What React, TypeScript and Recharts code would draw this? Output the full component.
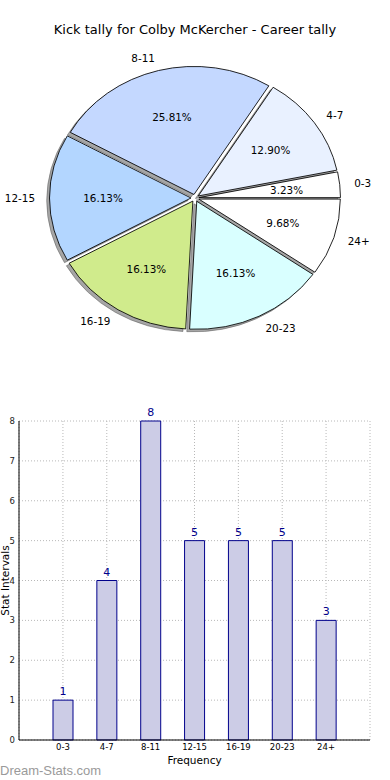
import React from 'react';
import { PieChart, Pie, Cell, Sector, BarChart, Bar, XAxis, YAxis, CartesianGrid, LabelList } from 'recharts';

const categories = ['0-3', '4-7', '8-11', '12-15', '16-19', '20-23', '24+'];
const counts = [1, 4, 8, 5, 5, 5, 3];
const sliceColors = ['#ffffff', '#e9f1ff', '#c4d8ff', '#b3d6ff', '#d0eb8c', '#d9ffff', '#ffffff'];
const yTicks = [0, 1, 2, 3, 4, 5, 6, 7, 8];

const pieData = categories.map((name, i) => ({ name, value: counts[i] }));
const barData = categories.map((name, i) => ({ name, value: counts[i] }));

const RAD = Math.PI / 180;
const EXPLODE = 4;
const YS = 0.905;
const LABEL_R = 156;
const PCT_R = 88;
const FONT = 'DejaVu Sans, sans-serif';

const squash = (cx: number, cy: number) =>
  `translate(${cx},${cy}) scale(1,${YS}) translate(${-cx},${-cy})`;

const renderSlice = (props: any) => {
  const { cx, cy, innerRadius, outerRadius, startAngle, endAngle, midAngle, fill } = props;
  const dx = EXPLODE * Math.cos(midAngle * RAD);
  const dy = -EXPLODE * Math.sin(midAngle * RAD);
  return (
    <g transform={squash(cx, cy)}>
      <Sector
        cx={cx + dx}
        cy={cy + dy}
        innerRadius={innerRadius}
        outerRadius={outerRadius}
        startAngle={startAngle}
        endAngle={endAngle}
        fill={fill}
        stroke="#000"
        strokeWidth={0.9}
      />
    </g>
  );
};

const renderShadow = (props: any) => {
  const { cx, cy, innerRadius, outerRadius, startAngle, endAngle, midAngle } = props;
  const dx = EXPLODE * Math.cos(midAngle * RAD) - 2.8;
  const dy = -EXPLODE * Math.sin(midAngle * RAD) + 2.8;
  return (
    <g transform={squash(cx, cy)}>
      <Sector
        cx={cx + dx}
        cy={cy + dy}
        innerRadius={innerRadius}
        outerRadius={outerRadius}
        startAngle={startAngle}
        endAngle={endAngle}
        fill="#4d4d4d"
        fillOpacity={0.5}
        stroke="#4d4d4d"
        strokeOpacity={0.5}
      />
    </g>
  );
};

const renderLabel = (props: any) => {
  const { cx, cy, midAngle, percent, name } = props;
  const c = Math.cos(midAngle * RAD);
  const s = Math.sin(midAngle * RAD);
  const lx = cx + (LABEL_R + EXPLODE) * c;
  const ly = cy - (LABEL_R + EXPLODE) * s * YS;
  const px = cx + (PCT_R + EXPLODE) * c;
  const py = cy - (PCT_R + EXPLODE) * s * YS;
  return (
    <g>
      <text x={lx} y={ly} textAnchor={c < 0 ? 'end' : 'start'} dominantBaseline="central" fontSize={10.4} fontFamily={FONT} fill="#000">
        {name}
      </text>
      <text x={px} y={py} textAnchor="middle" dominantBaseline="central" fontSize={10.4} fontFamily={FONT} fill="#000">
        {(percent * 100).toFixed(2) + '%'}
      </text>
    </g>
  );
};

const YLabel = (props: any) => {
  const vb = props.viewBox || { x: 0, y: 31, width: 19, height: 319 };
  const x = 9;
  const y = vb.y + vb.height / 2;
  return (
    <text x={x} y={y} transform={`rotate(-90, ${x}, ${y})`} textAnchor="middle" fontSize={10.5} fontFamily={FONT} fill="#000">
      Stat Intervals
    </text>
  );
};

export default function App() {
  return (
    <div style={{ position: 'absolute', left: 0, top: 0, width: 390, height: 780, background: '#fff', fontFamily: FONT }}>
      <svg width={390} height={50} style={{ position: 'absolute', left: 0, top: 0 }}>
        <text x={195} y={34} textAnchor="middle" fontSize={13} fontFamily={FONT} fill="#000">
          Kick tally for Colby McKercher - Career tally
        </text>
      </svg>
      <div style={{ position: 'absolute', left: 0, top: 0 }}>
        <PieChart width={390} height={390} margin={{ top: 0, right: 0, bottom: 0, left: 0 }}>
          <Pie
            data={pieData}
            dataKey="value"
            nameKey="name"
            cx={195}
            cy={198}
            outerRadius={141.5}
            startAngle={0}
            endAngle={360}
            isAnimationActive={false}
            shape={renderShadow}
            stroke="none"
            labelLine={false}
          >
            {pieData.map((d, i) => (
              <Cell key={d.name} fill={sliceColors[i]} />
            ))}
          </Pie>
          <Pie
            data={pieData}
            dataKey="value"
            nameKey="name"
            cx={195}
            cy={198}
            outerRadius={141.5}
            startAngle={0}
            endAngle={360}
            isAnimationActive={false}
            shape={renderSlice}
            label={renderLabel}
            labelLine={false}
            stroke="#000"
          >
            {pieData.map((d, i) => (
              <Cell key={d.name} fill={sliceColors[i]} />
            ))}
          </Pie>
        </PieChart>
      </div>
      <div style={{ position: 'absolute', left: 0, top: 390 }}>
        <BarChart width={390} height={390} data={barData} margin={{ top: 31, right: 20, bottom: 0, left: 0 }} barSize={20}>
          <XAxis
            dataKey="name"
            padding={{ left: 22, right: 22 }}
            interval={0}
            tickLine={false}
            tickSize={0}
            tickMargin={4}
            height={40}
            axisLine={{ stroke: '#000' }}
            tick={{ fontSize: 8.5, fill: '#000', fontFamily: FONT }}
            label={{ value: 'Frequency', position: 'insideBottom', offset: 16, fontSize: 10.5, fill: '#000', fontFamily: FONT }}
          />
          <XAxis
            xAxisId="top"
            orientation="top"
            dataKey="name"
            padding={{ left: 22, right: 22 }}
            interval={0}
            height={0}
            mirror
            tick={false}
            tickSize={4}
            tickLine={{ stroke: '#999' }}
            axisLine={{ stroke: '#000' }}
          />
          <YAxis
            domain={[0, 8]}
            ticks={yTicks}
            width={19}
            interval={0}
            tickLine={false}
            tickSize={0}
            tickMargin={4}
            axisLine={{ stroke: '#000' }}
            tick={{ fontSize: 8.5, fill: '#222', fontFamily: FONT }}
            label={<YLabel />}
          />
          <YAxis
            yAxisId="right"
            orientation="right"
            domain={[0, 8]}
            ticks={yTicks}
            width={0}
            mirror
            tick={false}
            tickSize={4}
            tickLine={{ stroke: '#999' }}
            axisLine={{ stroke: '#000' }}
          />
          <Bar dataKey="value" fill="#ccccE6" stroke="#00008b" strokeWidth={1} isAnimationActive={false}>
            <LabelList dataKey="value" position="top" offset={5} fill="#00008b" fontSize={11} fontFamily={FONT} />
          </Bar>
          <CartesianGrid stroke="#b8b8b8" strokeDasharray="1 2" />
        </BarChart>
      </div>
      <svg width={390} height={30} style={{ position: 'absolute', left: 0, top: 750 }}>
        <text x={0} y={25} fontSize={13} fontFamily="Liberation Sans, Arial, sans-serif" fill="#9a9a9a">
          Dream-Stats.com
        </text>
      </svg>
    </div>
  );
}
